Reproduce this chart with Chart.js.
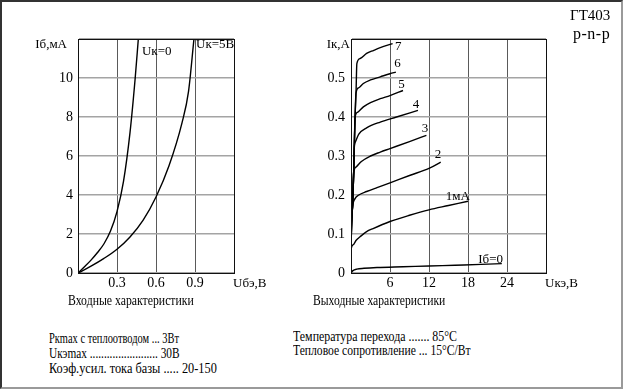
<!DOCTYPE html>
<html><head><meta charset="utf-8">
<script src="https://cdn.jsdelivr.net/npm/chart.js@4/dist/chart.umd.min.js"></script>
<style>
html,body{margin:0;padding:0;background:#fff;}
#frame{position:relative;width:623px;height:389px;overflow:hidden;font-family:'Liberation Serif','Times New Roman',serif;color:#000;background:#fff;}
#border{position:absolute;left:0;top:0;width:623px;height:389px;box-sizing:border-box;border-top:2px solid #333;border-left:2px solid #333;border-right:2px solid #9a9a9a;border-bottom:2px solid #9a9a9a;pointer-events:none;}
canvas{position:absolute;top:0;}
.t{position:absolute;font-size:14px;line-height:16px;white-space:nowrap;transform-origin:0 50%;}
</style></head><body>
<div id="frame">
<canvas id="c1" width="300" height="300" style="left:0px"></canvas>
<canvas id="c2" width="300" height="300" style="left:300px"></canvas>
<div class="t" style="left:570px;top:7px;font-size:15px;line-height:17px;">ГТ403</div>
<div class="t" style="left:573px;top:25px;font-size:16px;line-height:17px;letter-spacing:0.5px;">p-n-p</div>
<div class="t" style="left:68px;top:293px;transform:scaleX(0.84)">Входные характеристики</div>
<div class="t" style="left:313px;top:293px;transform:scaleX(0.83)">Выходные характеристики</div>
<div class="t" style="left:49px;top:331px;transform:scaleX(0.745)">Pкmax с теплоотводом ... 3Вт</div>
<div class="t" style="left:49px;top:346px;transform:scaleX(0.81)">Uкэmax ........................ 30В</div>
<div class="t" style="left:49px;top:361px;transform:scaleX(0.88)">Коэф.усил. тока базы ..... 20-150</div>
<div class="t" style="left:293px;top:329px;transform:scaleX(0.85)">Температура перехода ....... 85°С</div>
<div class="t" style="left:293px;top:343px;transform:scaleX(0.83)">Тепловое сопротивление ... 15°С/Вт</div>
<div id="border"></div>
</div>
<script>
// ---- Input characteristics: Iб (mA) vs Uбэ (V)
const inVbe_Uk0 = [0, 0.05, 0.1, 0.15, 0.2, 0.25, 0.3, 0.35, 0.4, 0.44, 0.464];
const inIb_Uk0  = [0, 0.32, 0.66, 1.05, 1.5, 2.15, 3.15, 4.7, 7.2, 10, 12];
const inVbe_Uk5 = [0, 0.1, 0.2, 0.3, 0.4, 0.5, 0.6, 0.7, 0.8, 0.85, 0.892];
const inIb_Uk5  = [0, 0.35, 0.75, 1.22, 1.85, 2.7, 3.9, 5.5, 7.7, 9.3, 12];
const inXTickVals = [0, 0.3, 0.6, 0.9, 1.2];
const inXTicks    = ['', '0.3', '0.6', '0.9', ''];
const inYTickVals = [0, 2, 4, 6, 8, 10, 12];
const inYTicks    = ['0', '2', '4', '6', '8', '10', ''];

// ---- Output characteristics: Iк (A) vs Uкэ (V), per base current
const outV_0 = [0, 0.3, 0.9, 2, 4, 8, 12, 16, 20, 23.2];
const outI_0 = [0, 0.006, 0.010, 0.012, 0.014, 0.016, 0.018, 0.020, 0.022, 0.024];
const outV_1 = [0, 0.03, 0.3, 0.8, 1.4, 2.4, 3.4, 6, 9, 12, 15, 18];
const outI_1 = [0, 0.062, 0.072, 0.084, 0.093, 0.106, 0.114, 0.132, 0.148, 0.162, 0.173, 0.184];
const outV_2 = [0, 0.05, 0.26, 0.6, 1.2, 2.4, 4, 6, 9, 12, 13.8];
const outI_2 = [0, 0.1, 0.17, 0.19, 0.2, 0.209, 0.219, 0.231, 0.25, 0.268, 0.284];
const outV_3 = [0, 0.05, 0.2, 0.4, 0.8, 1.6, 3, 4.5, 6, 9, 11.6];
const outI_3 = [0, 0.1, 0.16, 0.255, 0.272, 0.286, 0.3, 0.31, 0.319, 0.337, 0.353];
const outV_4 = [0, 0.05, 0.2, 0.4, 0.5, 0.7, 1.2, 2.4, 4.5, 7, 10.3];
const outI_4 = [0, 0.1, 0.16, 0.25, 0.32, 0.337, 0.356, 0.372, 0.387, 0.4, 0.417];
const outV_5 = [0, 0.05, 0.2, 0.4, 0.5, 0.62, 1, 1.9, 3, 4.5, 6, 8];
const outI_5 = [0, 0.1, 0.16, 0.25, 0.32, 0.398, 0.412, 0.426, 0.437, 0.447, 0.455, 0.468];
const outV_6 = [0, 0.05, 0.2, 0.4, 0.5, 0.62, 0.77, 1.2, 1.9, 3, 4.5, 6, 6.9];
const outI_6 = [0, 0.1, 0.16, 0.25, 0.32, 0.398, 0.462, 0.475, 0.486, 0.495, 0.503, 0.511, 0.515];
const outV_7 = [0, 0.05, 0.2, 0.4, 0.5, 0.62, 0.77, 0.9, 1.4, 2.4, 3.5, 4.5, 6.4];
const outI_7 = [0, 0.1, 0.16, 0.25, 0.32, 0.398, 0.46, 0.537, 0.55, 0.563, 0.571, 0.578, 0.588];
const outXTickVals = [0, 6, 12, 18, 24, 30];
const outXTicks    = ['', '6', '12', '18', '24', ''];
const outYTickVals = [0, 0.1, 0.2, 0.3, 0.4, 0.5, 0.6];
const outYTicks    = ['0', '0.1', '0.2', '0.3', '0.4', '0.5', ''];

const FONT = "'Liberation Serif', 'Times New Roman', serif";
const pts = (xs, ys) => xs.map((x, i) => ({x, y: ys[i]}));
const line = (xs, ys) => ({data: pts(xs, ys), showLine: true, borderColor: '#000', borderWidth: 1.4,
  pointRadius: 0, cubicInterpolationMode: 'monotone', fill: false});

const annot = {
  id: 'annot',
  afterDraw(chart, args, o) {
    const {ctx, chartArea: a, scales: {x, y}} = chart;
    ctx.save();
    ctx.strokeStyle = '#111'; ctx.lineWidth = 1;
    ctx.strokeRect(Math.round(a.left) + 0.5, Math.round(a.top) + 0.5, Math.round(a.right - a.left), Math.round(a.bottom - a.top));
    ctx.fillStyle = '#000';
    ctx.font = '13px ' + FONT;
    ctx.textBaseline = 'alphabetic';
    for (const l of o.labels) {
      ctx.textAlign = 'left';
      ctx.fillText(l.t, x.getPixelForValue(l.x), y.getPixelForValue(l.y));
    }
    ctx.textAlign = 'right';
    ctx.fillText(o.yTitle, a.left + o.yTitleDx, a.top + 9);
    ctx.textAlign = 'left';
    ctx.fillText(o.xTitle, a.right - 1, a.bottom + 14);
    ctx.restore();
  }
};

function makeChart(id, datasets, xr, yr, pad, yW, opts) {
  return new Chart(document.getElementById(id), {
    type: 'scatter',
    data: {datasets},
    plugins: [annot],
    options: {
      responsive: false, animation: false, devicePixelRatio: 1,
      layout: {padding: pad},
      plugins: {legend: {display: false}, tooltip: {enabled: false}, annot: opts},
      scales: {
        x: {
          type: 'linear', min: xr.vals[0], max: xr.vals[xr.vals.length - 1],
          afterBuildTicks: s => { s.ticks = xr.vals.map(v => ({value: v})); },
          afterFit: s => { s.height = 27; },
          ticks: {callback: (v, i) => xr.labels[i], color: '#000', font: {family: FONT, size: 14}, padding: 2, maxRotation: 0, autoSkip: false},
          grid: {color: '#5a5a5a', lineWidth: 1, drawTicks: false},
          border: {color: '#111', width: 1}
        },
        y: {
          type: 'linear', min: yr.vals[0], max: yr.vals[yr.vals.length - 1],
          afterBuildTicks: s => { s.ticks = yr.vals.map(v => ({value: v})); },
          afterFit: s => { s.width = yW; },
          ticks: {callback: (v, i) => yr.labels[i], color: '#000', font: {family: FONT, size: 14}, padding: yr.pad, autoSkip: false},
          grid: {color: '#a4a4a4', lineWidth: 1.5, drawTicks: false},
          border: {color: '#111', width: 1}
        }
      }
    }
  });
}

makeChart('c1',
  [line(inVbe_Uk0, inIb_Uk0), line(inVbe_Uk5, inIb_Uk5)],
  {vals: inXTickVals, labels: inXTicks},
  {vals: inYTickVals, labels: inYTicks, pad: 5},
  {left: 0, top: 39, right: 66, bottom: 0}, 78,
  {labels: [{t: 'Uк=0', x: 0.492, y: 11.2}, {t: 'Uк=5В', x: 0.908, y: 11.52}],
   yTitle: 'Iб,мА', yTitleDx: -11, xTitle: 'Uбэ,В'});

makeChart('c2',
  [line(outV_0, outI_0), line(outV_1, outI_1), line(outV_2, outI_2), line(outV_3, outI_3),
   line(outV_4, outI_4), line(outV_5, outI_5), line(outV_6, outI_6), line(outV_7, outI_7)],
  {vals: outXTickVals, labels: outXTicks},
  {vals: outYTickVals, labels: outYTicks, pad: 6},
  {left: 0, top: 39, right: 54, bottom: 0}, 51,
  {labels: [{t: '7', x: 6.77, y: 0.572}, {t: '6', x: 6.66, y: 0.527}, {t: '5', x: 7.28, y: 0.474},
            {t: '4', x: 9.49, y: 0.422}, {t: '3', x: 10.9, y: 0.362}, {t: '2', x: 12.9, y: 0.294},
            {t: '1мА', x: 14.57, y: 0.187}, {t: 'Iб=0', x: 19.58, y: 0.0256}],
   yTitle: 'Iк,А', yTitleDx: -1, xTitle: 'Uкэ,В'});
</script>
</body></html>
